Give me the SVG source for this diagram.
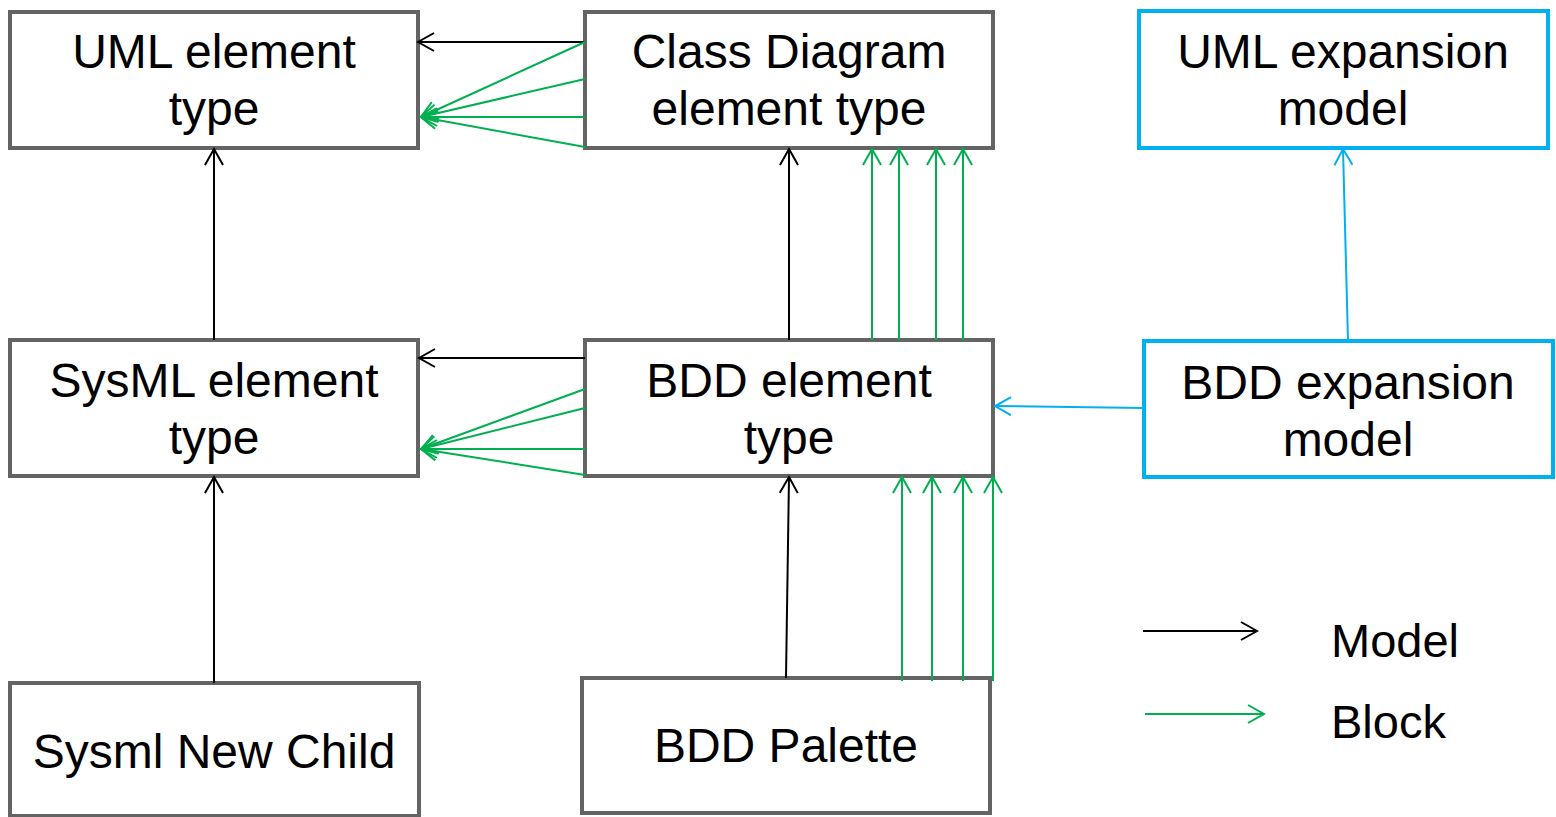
<svg xmlns="http://www.w3.org/2000/svg" width="1556" height="817" viewBox="0 0 1556 817">
<style>
.box{fill:#fff;stroke:#646464;stroke-width:4}
.bbox{fill:#fff;stroke:#00B0F0;stroke-width:4}
.t{font-family:"Liberation Sans",Arial,sans-serif;font-size:48px;fill:#000;text-anchor:middle}
.tl{font-family:"Liberation Sans",Arial,sans-serif;font-size:47px;fill:#000}
.k{stroke:#000;stroke-width:2;fill:none;marker-end:url(#ak)}
.g{stroke:#00B050;stroke-width:2;fill:none;marker-end:url(#ag)}
.b{stroke:#00B0F0;stroke-width:2;fill:none;marker-end:url(#ab)}
</style>
<defs>
<marker id="ak" markerUnits="userSpaceOnUse" markerWidth="20" markerHeight="20" viewBox="0 0 20 20" refX="18" refY="10" orient="auto"><path d="M2,1 L18,10 L2,19" fill="none" stroke="#000" stroke-width="2"/></marker>
<marker id="ag" markerUnits="userSpaceOnUse" markerWidth="20" markerHeight="20" viewBox="0 0 20 20" refX="18" refY="10" orient="auto"><path d="M2,1 L18,10 L2,19" fill="none" stroke="#00B050" stroke-width="2"/></marker>
<marker id="ab" markerUnits="userSpaceOnUse" markerWidth="20" markerHeight="20" viewBox="0 0 20 20" refX="18" refY="10" orient="auto"><path d="M2,1 L18,10 L2,19" fill="none" stroke="#00B0F0" stroke-width="2"/></marker>
</defs>
<rect width="1556" height="817" fill="#fff"/>
<g id="uml-element-type"><rect class="box" x="10" y="12" width="408" height="136"/><text class="t" x="214" y="68">UML element</text><text class="t" x="214" y="125">type</text></g>
<g id="class-diagram-element-type"><rect class="box" x="585" y="12" width="408" height="136"/><text class="t" x="789" y="68">Class Diagram</text><text class="t" x="789" y="125">element type</text></g>
<g id="uml-expansion-model"><rect class="bbox" x="1139" y="11" width="409" height="137"/><text class="t" x="1343" y="68">UML expansion</text><text class="t" x="1343" y="125">model</text></g>
<g id="sysml-element-type"><rect class="box" x="10" y="340" width="408" height="136"/><text class="t" x="214" y="397">SysML element</text><text class="t" x="214" y="454">type</text></g>
<g id="bdd-element-type"><rect class="box" x="585" y="340" width="408" height="136"/><text class="t" x="789" y="397">BDD element</text><text class="t" x="789" y="454">type</text></g>
<g id="bdd-expansion-model"><rect class="bbox" x="1144" y="341" width="409" height="136"/><text class="t" x="1348" y="399">BDD expansion</text><text class="t" x="1348" y="456">model</text></g>
<g id="sysml-new-child"><rect class="box" x="10" y="683" width="409" height="133"/><text class="t" x="214" y="768">Sysml New Child</text></g>
<g id="bdd-palette"><rect class="box" x="582" y="678" width="408" height="135"/><text class="t" x="786" y="762">BDD Palette</text></g>
<g id="connectors">
<line class="k" x1="585" y1="42" x2="418" y2="42"/>
<line class="g" x1="585" y1="42" x2="421" y2="117"/>
<line class="g" x1="585" y1="79" x2="421" y2="117"/>
<line class="g" x1="585" y1="117" x2="421" y2="117"/>
<line class="g" x1="585" y1="147" x2="421" y2="117"/>
<line class="k" x1="585" y1="358" x2="419" y2="358"/>
<line class="g" x1="585" y1="389" x2="421" y2="449"/>
<line class="g" x1="585" y1="408" x2="421" y2="449"/>
<line class="g" x1="585" y1="449" x2="421" y2="449"/>
<line class="g" x1="585" y1="475" x2="421" y2="449"/>
<line class="k" x1="214" y1="340" x2="214" y2="149"/>
<line class="k" x1="214" y1="683" x2="214" y2="477"/>
<line class="k" x1="789" y1="340" x2="789" y2="149"/>
<line class="g" x1="872" y1="340" x2="872" y2="149"/>
<line class="g" x1="899" y1="340" x2="899" y2="149"/>
<line class="g" x1="936" y1="340" x2="936" y2="149"/>
<line class="g" x1="963" y1="340" x2="963" y2="149"/>
<line class="k" x1="786" y1="678" x2="789" y2="477"/>
<line class="g" x1="902" y1="681" x2="902" y2="477"/>
<line class="g" x1="932" y1="681" x2="932" y2="477"/>
<line class="g" x1="963" y1="681" x2="963" y2="477"/>
<line class="g" x1="993" y1="681" x2="993" y2="477"/>
<line class="b" x1="1144" y1="408" x2="995" y2="406"/>
<line class="b" x1="1348" y1="341" x2="1343" y2="149"/>
</g>
<g id="legend">
<line class="k" x1="1143" y1="631" x2="1257" y2="631"/>
<text class="tl" x="1331" y="657">Model</text>
<line class="g" x1="1145" y1="714" x2="1264" y2="714"/>
<text class="tl" x="1331" y="738">Block</text>
</g>
</svg>
